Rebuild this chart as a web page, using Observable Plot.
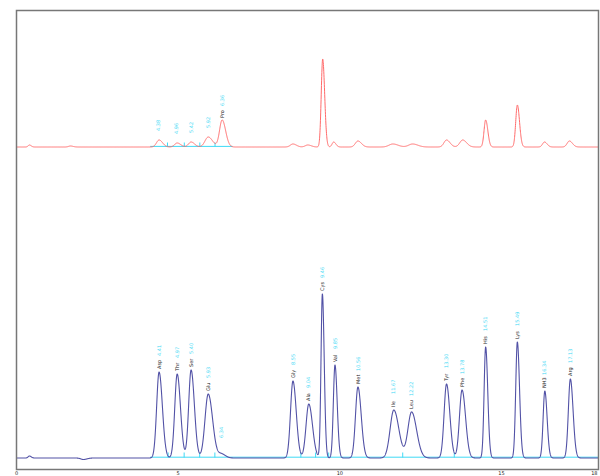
<!DOCTYPE html>
<html><head><meta charset="utf-8">
<script src="https://cdn.jsdelivr.net/npm/d3@7"></script>
<script src="https://cdn.jsdelivr.net/npm/@observablehq/plot@0.6"></script>
<style>body{margin:0;background:#fff;} #chart svg{display:block;}</style>
</head><body><div id="chart"></div>
<script>
// Lower (blue) trace: standard amino-acid chromatogram
const blueNames   = ["Asp","Thr","Ser","Glu","","Gly","Ala","Cys","Val","Met","Ile","Leu","Tyr","Phe","His","Lys","NH3","Arg"];
const blueTimes   = [4.41, 4.97, 5.40, 5.93, 6.34, 8.55, 9.04, 9.46, 9.85, 10.56, 11.67, 12.22, 13.30, 13.78, 14.51, 15.49, 16.34, 17.13];
const blueHeights = [86, 84, 88, 64, 4, 77, 54, 164, 93, 71, 48, 46, 74, 68, 111, 116, 67, 79];
const blueWidths  = [0.075, 0.075, 0.075, 0.10, 0.09, 0.075, 0.085, 0.042, 0.05, 0.075, 0.115, 0.115, 0.075, 0.08, 0.048, 0.05, 0.052, 0.062];
// small baseline disturbances of the blue trace
const blueNoiseTimes   = [0.40, 2.07];
const blueNoiseHeights = [2, -1.5];
const blueNoiseWidths  = [0.04, 0.08];

// Upper (red) trace: sample
const redTimes   = [0.40, 1.67, 4.41, 4.97, 5.40, 5.93, 6.36, 8.55, 9.01, 9.47, 9.81, 10.56, 11.64, 12.25, 13.30, 13.80, 14.51, 15.49, 16.33, 17.10];
const redHeights = [2, 1, 7, 4, 5, 10, 27, 3, 2, 88, 5, 6, 3, 3, 7, 7, 27, 42, 5, 6];
const redWidths  = [0.04, 0.06, 0.08, 0.08, 0.08, 0.10, 0.08, 0.08, 0.08, 0.045, 0.05, 0.08, 0.12, 0.12, 0.08, 0.09, 0.05, 0.05, 0.06, 0.07];
const redLabelTimes   = [4.38, 4.96, 5.42, 5.92, 6.36];
const redLabelNames   = ["", "", "", "", "Pro"];
const redLabelHeights = [7, 4, 5, 10, 27];

const xTicks = [0, 5, 10, 15, 18];

// display offsets (vertical placement of the two traces in the frame)
const blueBase = 11.5, redBase = 322.5;

function trace(times, heights, widths, base, series) {
  const pts = [];
  for (let i = 0; i <= 4500; i++) {
    const t = i * 0.004;
    let v = 0;
    for (let k = 0; k < times.length; k++) {
      const s = t < times[k] ? widths[k] : widths[k] * 1.35;
      v += heights[k] * Math.exp(-0.5 * ((t - times[k]) / s) ** 2);
    }
    pts.push({t, v: base + v, series});
  }
  return pts;
}

const blueData = trace(blueTimes.concat(blueNoiseTimes), blueHeights.concat(blueNoiseHeights),
                       blueWidths.concat(blueNoiseWidths), blueBase, "blue");
const redData = trace(redTimes, redHeights, redWidths, redBase, "red");

const blueLabels = blueTimes.map((t, i) => ({t, top: blueBase + blueHeights[i], name: blueNames[i], time: t.toFixed(2)}));
const redLabels = redLabelTimes.map((t, i) => ({t, top: redBase + redLabelHeights[i], name: redLabelNames[i], time: t.toFixed(2)}));

// boundaries between unresolved neighbouring peaks (integration drop lines)
const blueBounds = [];
for (let i = 0; i < blueTimes.length - 1; i++) {
  if (blueTimes[i + 1] - blueTimes[i] < 0.6) blueBounds.push((blueTimes[i] + blueTimes[i + 1]) / 2);
}
const redBounds = [];
for (let i = 0; i < redLabelTimes.length - 1; i++) redBounds.push((redLabelTimes[i] + redLabelTimes[i + 1]) / 2);

const cyan = "#3fd9f5";
const lastTick = xTicks[xTicks.length - 1];
const chart = Plot.plot({
  width: 600, height: 476,
  marginLeft: 16, marginRight: 2, marginTop: 10, marginBottom: 7,
  style: {fontFamily: "DejaVu Sans", background: "#fff"},
  x: {domain: [0, 18], axis: null},
  y: {domain: [0, 459], axis: null},
  marks: [
    // integration baselines
    Plot.ruleY([blueBase + 0.8], {x1: 4.15, x2: 18, stroke: cyan, strokeWidth: 1}),
    Plot.ruleY([redBase + 0.6], {x1: 4.15, x2: 6.7, stroke: cyan, strokeWidth: 1}),
    Plot.ruleX(blueBounds, {x: d => d, y1: blueBase, y2: blueBase + 5, stroke: cyan, strokeWidth: 1}),
    Plot.ruleX(redBounds, {x: d => d, y1: redBase, y2: redBase + 4, stroke: cyan, strokeWidth: 1}),
    Plot.line(redData, {x: "t", y: "v", stroke: "#ff6a6a", strokeWidth: 1}),
    Plot.line(blueData, {x: "t", y: "v", stroke: "#5252a6", strokeWidth: 1.1}),
    // blue labels
    Plot.text(blueLabels, {x: "t", y: d => d.top + 3, text: "name", rotate: -90, textAnchor: "start", fontSize: 5, fill: "#222"}),
    Plot.text(blueLabels, {x: "t", y: d => d.top + 16, text: "time", rotate: -90, textAnchor: "start", fontSize: 5, fill: cyan}),
    // red labels
    Plot.text(redLabels, {x: "t", y: d => d.top + 2, text: "name", rotate: -90, textAnchor: "start", fontSize: 5, fill: "#222"}),
    Plot.text(redLabels, {x: "t", y: d => d.top + (d.name ? 14 : 9), text: "time", rotate: -90, textAnchor: "start", fontSize: 5, fill: cyan}),
    // x tick labels
    Plot.text(xTicks.filter(d => d !== lastTick), {x: d => d, y: 0, dy: 1.5, lineAnchor: "top", text: d => String(d), fontSize: 5, fill: "#222"}),
    Plot.text([lastTick], {x: d => d, y: 0, dy: 1.5, dx: -1, lineAnchor: "top", textAnchor: "end", text: d => String(d), fontSize: 5, fill: "#222"}),
    Plot.frame({stroke: "#777", strokeWidth: 1.5})
  ]
});
document.getElementById("chart").append(chart);
</script>
</body></html>
